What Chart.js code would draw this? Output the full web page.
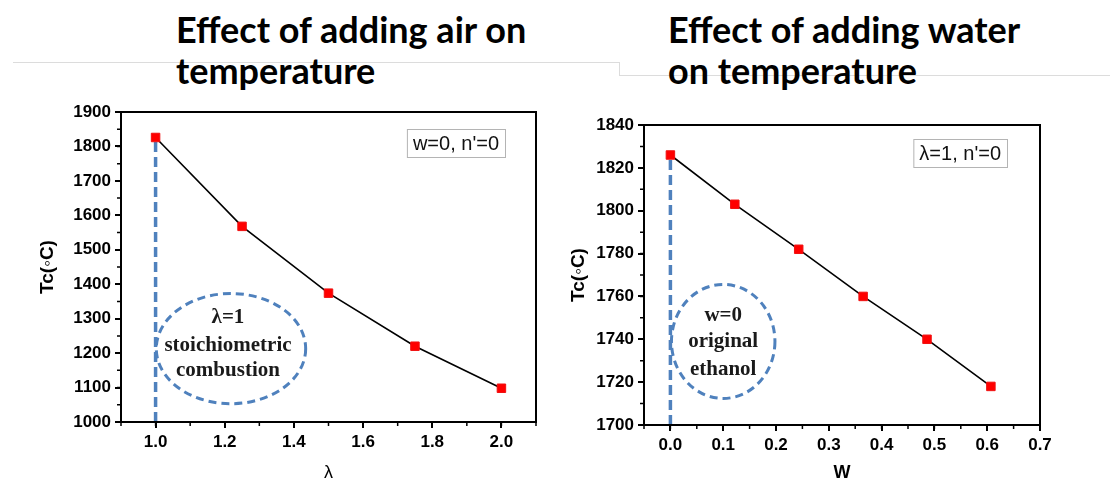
<!DOCTYPE html>
<html>
<head>
<meta charset="utf-8">
<script src="https://cdn.jsdelivr.net/npm/chart.js@4.4.1/dist/chart.umd.min.js"></script>
<style>
  body { margin: 0; width: 1110px; height: 480px; overflow: hidden; background: #fff; position: relative; }
  .title { position: absolute; font-family: Lato, sans-serif; font-weight: bold; font-size: 36px; line-height: 41px; color: #000; white-space: nowrap; z-index: 2; }
  .rule { position: absolute; background: #dcdcdc; z-index: 1; }
  .box { position: absolute; }
</style>
</head>
<body>
<div class="rule" style="left:13px;top:62px;width:606px;height:1px"></div>
<div class="rule" style="left:619px;top:62px;width:1px;height:13px"></div>
<div class="rule" style="left:619px;top:75px;width:491px;height:1px"></div>
<div class="title" style="left:176px;top:9px">Effect of adding air on<br>temperature</div>
<div class="title" style="left:668px;top:9px">Effect of adding water<br>on temperature</div>

<div class="box" style="left:0;top:95px;width:550px;height:389px"><canvas id="airChart"></canvas></div>
<div class="box" style="left:555px;top:100px;width:555px;height:384px"><canvas id="waterChart"></canvas></div>

<script>
// left chart: air ratio
const lambdaVals = [1.0, 1.25, 1.5, 1.75, 2.0];
const tcAir = [1826, 1568, 1374, 1220, 1098];
const lambdaTicks = [1.0, 1.2, 1.4, 1.6, 1.8, 2.0];
const tcAirTicks = [1000, 1100, 1200, 1300, 1400, 1500, 1600, 1700, 1800, 1900];
const airNote = "w=0, n'=0";
const airCircleText = ['λ=1', 'stoichiometric', 'combustion'];

// right chart: water fraction
const wVals = [0, 0.122, 0.243, 0.365, 0.486, 0.607];
const tcWater = [1826, 1803, 1782, 1760, 1740, 1718];
const wTicks = [0.0, 0.1, 0.2, 0.3, 0.4, 0.5, 0.6, 0.7];
const tcWaterTicks = [1700, 1720, 1740, 1760, 1780, 1800, 1820, 1840];
const waterNote = "λ=1, n'=0";
const waterCircleText = ['w=0', 'original', 'ethanol'];

const BLUE = 'rgb(79,129,189)';

// frame, minor ticks, note box, dashed ellipse
const decorPlugin = {
  id: 'decor',
  afterDraw(chart, args, o) {
    const ctx = chart.ctx;
    const a = chart.chartArea;
    const xs = chart.scales.x, ys = chart.scales.y;
    ctx.save();
    // frame
    ctx.strokeStyle = '#000';
    ctx.lineWidth = 2;
    ctx.strokeRect(a.left, a.top, a.right - a.left, a.bottom - a.top);
    // minor ticks
    ctx.lineWidth = 1.5;
    ctx.beginPath();
    for (let i = 0; ; i++) {
      const v = xs.min + i * o.xMinor;
      if (v > xs.max + 1e-9) break;
      const px = xs.getPixelForValue(v);
      ctx.moveTo(px, a.bottom); ctx.lineTo(px, a.bottom + 4);
    }
    for (let i = 0; ; i++) {
      const v = ys.min + i * o.yMinor;
      if (v > ys.max + 1e-9) break;
      const py = ys.getPixelForValue(v);
      ctx.moveTo(a.left, py); ctx.lineTo(a.left - 4, py);
    }
    ctx.stroke();

    // note box
    ctx.font = '20px Arial';
    const tw = ctx.measureText(o.note).width;
    const bw = tw + 12, bh = 28;
    const bx = a.right - o.noteRight - bw, by = a.top + o.noteTop;
    ctx.fillStyle = '#fff';
    ctx.fillRect(bx, by, bw, bh);
    ctx.strokeStyle = '#b4b4b4';
    ctx.lineWidth = 1;
    ctx.strokeRect(bx + 0.5, by + 0.5, bw, bh);
    ctx.fillStyle = '#111';
    ctx.textBaseline = 'middle';
    ctx.textAlign = 'center';
    ctx.fillText(o.note, bx + bw / 2, by + bh / 2 + 1);

    // dashed ellipse with text
    const e = o.ellipse;
    const cx = xs.getPixelForValue(e.cx), cy = ys.getPixelForValue(e.cy);
    const rx = Math.abs(xs.getPixelForValue(e.cx + e.rx) - cx);
    const ry = Math.abs(ys.getPixelForValue(e.cy + e.ry) - cy);
    ctx.strokeStyle = BLUE;
    ctx.lineWidth = 3;
    ctx.setLineDash([8, 5]);
    ctx.beginPath();
    ctx.ellipse(cx, cy, rx, ry, 0, 0, Math.PI * 2);
    ctx.stroke();
    ctx.setLineDash([]);
    ctx.fillStyle = '#1a1a1a';
    ctx.font = 'bold 21px "Liberation Serif", "Times New Roman", serif';
    o.lines.forEach((t, i) => ctx.fillText(t, cx + o.textDx, cy + o.lineDy[i]));
    ctx.restore();
  }
};

function makeChart(id, xv, yv, xTicks, yTicks, cfg) {
  const pts = xv.map((x, i) => ({ x: x, y: yv[i] }));
  const drop = [{ x: xv[0], y: cfg.yMin }, { x: xv[0], y: yv[0] }];
  return new Chart(document.getElementById(id), {
    type: 'scatter',
    data: {
      datasets: [{
        data: pts,
        showLine: true,
        borderColor: '#000',
        borderWidth: 1.6,
        pointStyle: 'rect',
        pointRadius: 6,
        pointBackgroundColor: '#ff0000',
        pointBorderColor: '#f01010',
        pointBorderWidth: 1,
        order: 0
      }, {
        data: drop,
        showLine: true,
        borderColor: BLUE,
        borderWidth: 3.5,
        borderDash: [10, 5],
        pointRadius: 0,
        order: 1
      }]
    },
    options: {
      responsive: true,
      maintainAspectRatio: false,
      animation: false,
      layout: { padding: { top: cfg.padTop, right: cfg.padRight, left: 0, bottom: 0 } },
      plugins: {
        legend: { display: false },
        tooltip: { enabled: false },
        decor: cfg.decor
      },
      scales: {
        x: {
          type: 'linear',
          min: cfg.xMin, max: cfg.xMax,
          afterBuildTicks: s => { s.ticks = xTicks.map(v => ({ value: v })); },
          afterFit: s => { s.height = cfg.xHeight; },
          ticks: { color: '#000', font: { family: 'Arial', weight: 'bold', size: 17 }, padding: 4,
                   maxRotation: 0, autoSkip: false, callback: v => v.toFixed(1) },
          grid: { drawOnChartArea: false, drawTicks: true, tickLength: 6, color: '#000', lineWidth: 2 },
          border: { display: true, color: '#000', width: 2 },
          title: { display: true, text: cfg.xTitle, color: '#000',
                   font: { family: 'Arial', weight: cfg.xTitleWeight, size: 18 }, padding: { top: 0, bottom: 0 } }
        },
        y: {
          type: 'linear',
          min: cfg.yMin, max: cfg.yMax,
          afterBuildTicks: s => { s.ticks = yTicks.map(v => ({ value: v })); },
          afterFit: s => { s.width = cfg.yWidth; },
          ticks: { color: '#000', font: { family: 'Arial', weight: 'bold', size: 17 }, padding: 4,
                   autoSkip: false, callback: v => String(v) },
          grid: { drawOnChartArea: false, drawTicks: true, tickLength: 6, color: '#000', lineWidth: 2 },
          border: { display: true, color: '#000', width: 2 },
          title: { display: true, text: 'Tc(◦C)', color: '#000',
                   font: { family: 'Arial', weight: 'bold', size: 19 }, padding: { top: cfg.yTitlePad, bottom: 0 } }
        }
      }
    },
    plugins: [decorPlugin]
  });
}

makeChart('airChart', lambdaVals, tcAir, lambdaTicks, tcAirTicks, {
  xMin: 0.9, xMax: 2.1, yMin: 1000, yMax: 1900,
  padTop: 17, padRight: 14, xHeight: 62, yWidth: 121, yTitlePad: 36,
  xTitle: 'λ', xTitleWeight: 'normal',
  decor: {
    xMinor: 0.1, yMinor: 50,
    note: airNote, noteRight: 31, noteTop: 17,
    ellipse: { cx: 1.218, cy: 1213, rx: 0.216, ry: 160 },
    lines: airCircleText, textDx: -3, lineDy: [-31, -3, 22]
  }
});

makeChart('waterChart', wVals, tcWater, wTicks, tcWaterTicks, {
  xMin: -0.05, xMax: 0.7, yMin: 1700, yMax: 1840,
  padTop: 25, padRight: 70, xHeight: 59, yWidth: 89, yTitlePad: 12,
  xTitle: 'W', xTitleWeight: 'bold',
  decor: {
    xMinor: 0.05, yMinor: 10,
    note: waterNote, noteRight: 33, noteTop: 14,
    ellipse: { cx: 0.1, cy: 1739, rx: 0.098, ry: 26.6 },
    lines: waterCircleText, textDx: 0, lineDy: [-26, 0, 28]
  }
});
</script>
</body>
</html>
